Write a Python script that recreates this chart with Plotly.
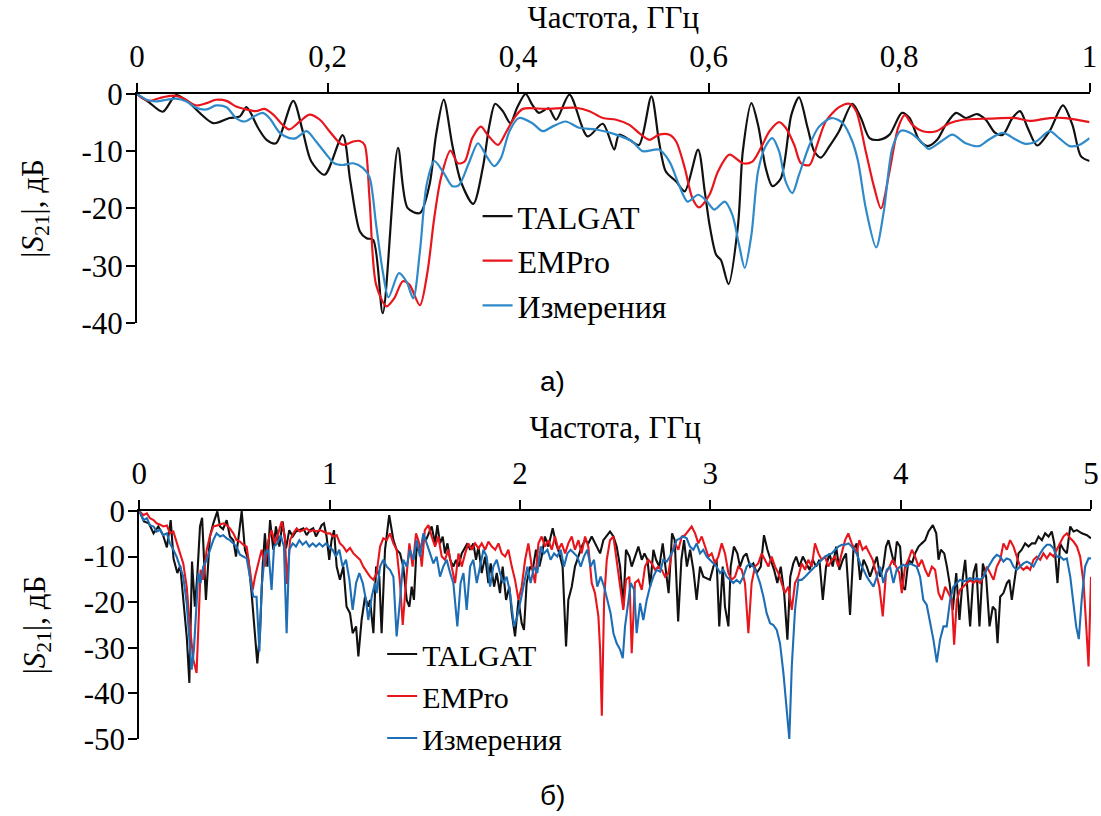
import plotly.graph_objects as go

# ---------------- data: top panel (0..1 GHz) ----------------
top_talgat = [(0, 0), (0.013, -1.5), (0.027, -3.1), (0.041, -0.2), (0.053, -1.3), (0.080, -5.1), (0.097, -4.2),
              (0.108, -3.9), (0.115, -2.3), (0.127, -5.9), (0.136, -8), (0.146, -8.6), (0.164, -1.2), (0.174, -6.5),
              (0.183, -11.8), (0.197, -14.1), (0.216, -7.2), (0.224, -15.3), (0.234, -24), (0.241, -25.2),
              (0.248, -25.5), (0.258, -38.3), (0.274, -9.4), (0.284, -19.9), (0.297, -20.8), (0.307, -15.9),
              (0.314, -7.1), (0.322, -1.0), (0.331, -8.9), (0.340, -15.3), (0.353, -19.2), (0.363, -12.9),
              (0.370, -5.4), (0.376, -1.7), (0.384, -3), (0.392, -5.1), (0.399, -2.4), (0.408, 0), (0.415, -1.9),
              (0.422, -3.3), (0.432, -2.5), (0.440, -4.5), (0.454, -0.1), (0.473, -7.4), (0.489, -5.2),
              (0.501, -9.7), (0.506, -7.1), (0.517, -8), (0.527, -8.9), (0.540, -0.4), (0.548, -8.3),
              (0.555, -13.5), (0.566, -15.3), (0.575, -17), (0.589, -9.7), (0.596, -17), (0.601, -22.8),
              (0.608, -28.1), (0.613, -29), (0.621, -33.2), (0.631, -22.8), (0.636, -10), (0.645, -1.6),
              (0.652, -5.4), (0.660, -12.9), (0.667, -16.1), (0.676, -14.7), (0.687, -3.6), (0.695, -0.6),
              (0.704, -5.9), (0.711, -10), (0.718, -11.1), (0.727, -9.1), (0.737, -6.5), (0.751, -1.7),
              (0.760, -4.2), (0.769, -7.7), (0.779, -8), (0.790, -7.1), (0.803, -3.3), (0.811, -4.2), (0.821, -8),
              (0.830, -9.1), (0.840, -8), (0.849, -5.4), (0.860, -3.3), (0.870, -4.2), (0.882, -3.5), (0.891, -4.5),
              (0.901, -6.8), (0.909, -7.1), (0.919, -4.2), (0.927, -3), (0.935, -5.9), (0.945, -9), (0.958, -6.5),
              (0.972, -2), (0.982, -5.4), (0.991, -10.9), (1.0, -11.7)]

top_empro = [(0, 0), (0.006, -0.8), (0.013, -1.2), (0.024, -0.7), (0.038, -0.3), (0.048, -0.7), (0.062, -2.0),
             (0.073, -1.6), (0.083, -1.0), (0.094, -1.2), (0.104, -2.2), (0.115, -2.7), (0.125, -3.0), (0.134, -2.6),
             (0.143, -3.6), (0.153, -5.4), (0.160, -6.2), (0.171, -4.8), (0.181, -3.6), (0.192, -4.5), (0.202, -6.5),
             (0.213, -8.6), (0.218, -8.9), (0.227, -8.3), (0.234, -8.2), (0.239, -8.9), (0.244, -18), (0.251, -33.3),
             (0.262, -37.1), (0.270, -35.7), (0.279, -32.7), (0.286, -33.3), (0.297, -36.9), (0.305, -31),
             (0.312, -21.7), (0.319, -14.7), (0.329, -9.9), (0.337, -12.1), (0.344, -11.8), (0.352, -7.7),
             (0.361, -5.7), (0.368, -7.1), (0.379, -8.9), (0.388, -6.5), (0.396, -4.2), (0.405, -2.6), (0.429, -2.6),
             (0.461, -2.4), (0.475, -3), (0.489, -4.2), (0.503, -4.5), (0.517, -5.4), (0.527, -6.8), (0.538, -8),
             (0.548, -7.1), (0.559, -7.1), (0.566, -8.3), (0.575, -12.9), (0.583, -18.2), (0.590, -19.8),
             (0.601, -17.6), (0.610, -13.5), (0.622, -10.6), (0.636, -12.1), (0.646, -11.8), (0.655, -9.4),
             (0.664, -6.5), (0.674, -4.9), (0.681, -5.9), (0.690, -8.9), (0.697, -12.1), (0.706, -12.4),
             (0.714, -8.9), (0.723, -4.8), (0.737, -2.3), (0.748, -1.7), (0.755, -3), (0.765, -10), (0.774, -16.4),
             (0.781, -20), (0.790, -13.5), (0.799, -5.9), (0.806, -3.7), (0.814, -5.4), (0.825, -6.5), (0.839, -6.5),
             (0.853, -5.1), (0.867, -4.5), (0.895, -4.3), (0.923, -4.2), (0.937, -4.7), (0.958, -4.2), (0.975, -4.2),
             (1.0, -4.9)]

top_meas = [(0, 0), (0.010, -1), (0.020, -1.3), (0.031, -1), (0.041, -0.8), (0.052, -1.3), (0.062, -2.4),
            (0.073, -2.7), (0.083, -2.0), (0.094, -2.3), (0.104, -4.2), (0.113, -4.8), (0.123, -3.9), (0.132, -3.3),
            (0.139, -4.2), (0.150, -6.8), (0.160, -7.7), (0.167, -7.7), (0.178, -6.5), (0.188, -8.3), (0.199, -10.6),
            (0.207, -12.1), (0.216, -12.4), (0.227, -12.1), (0.237, -12.9), (0.244, -14.5), (0.251, -22.8),
            (0.258, -31), (0.264, -35.5), (0.275, -31.3), (0.283, -32.8), (0.290, -35.7), (0.297, -27.5),
            (0.304, -15.9), (0.312, -11.7), (0.321, -13.5), (0.331, -16.1), (0.338, -15.9), (0.349, -11.8),
            (0.358, -8.6), (0.367, -10.9), (0.375, -12.6), (0.382, -11.2), (0.391, -6.5), (0.401, -4.2),
            (0.415, -5.1), (0.426, -6.5), (0.436, -5.7), (0.450, -4.8), (0.464, -5.9), (0.482, -6.2), (0.503, -7.1),
            (0.520, -8.3), (0.531, -10), (0.548, -9.7), (0.559, -11.8), (0.569, -15.9), (0.578, -18.8),
            (0.589, -17.6), (0.597, -18.5), (0.606, -20.2), (0.617, -18.8), (0.625, -21.1), (0.632, -26.3),
            (0.638, -30.4), (0.645, -24.6), (0.652, -13.5), (0.660, -9.1), (0.667, -7.7), (0.674, -10),
            (0.681, -15.3), (0.688, -17.3), (0.695, -14.1), (0.706, -8.9), (0.716, -5.7), (0.729, -4.2),
            (0.741, -5.1), (0.751, -8.3), (0.757, -11.8), (0.765, -19.9), (0.776, -26.8), (0.784, -20.5),
            (0.793, -9.4), (0.802, -6.4), (0.812, -6.8), (0.823, -8.3), (0.831, -9.6), (0.844, -8.3), (0.856, -7.1),
            (0.870, -8.6), (0.884, -9.1), (0.894, -8), (0.909, -6.8), (0.923, -8), (0.933, -8.7), (0.944, -8.3),
            (0.958, -6.5), (0.968, -7.7), (0.979, -9.1), (0.989, -8.9), (1.0, -7.7)]

# ---------------- data: bottom panel (0..5 GHz) ----------------
bot_talgat = [(0, 0), (0.025, -2.3), (0.05, -2.7), (0.075, -4.9), (0.1, -3.4), (0.125, -5.3), (0.145, -8),
              (0.165, -2), (0.18, -10.5), (0.2, -13.6), (0.215, -12), (0.235, -22), (0.25, -28), (0.263, -37.7),
              (0.277, -11.1), (0.292, -21), (0.305, -14), (0.319, -3.4), (0.33, -1.5), (0.35, -19.5), (0.371, -5.6),
              (0.389, -2.7), (0.41, -0.1), (0.424, -3.4), (0.44, -4), (0.459, -2), (0.476, -5.6), (0.494, -6.4),
              (0.508, -10), (0.522, -5.6), (0.538, 0), (0.555, -8.5), (0.573, -10.7), (0.59, -18), (0.603, -25.3),
              (0.62, -33.4), (0.634, -26.8), (0.648, -12.2), (0.66, -4.9), (0.673, -12.2), (0.687, -2),
              (0.704, -8.5), (0.718, -3.4), (0.736, -7.8), (0.753, -2.3), (0.771, -8.2), (0.788, -4.2),
              (0.806, -5.6), (0.823, -4.5), (0.844, -4.2), (0.862, -3.8), (0.879, -5.3), (0.897, -4.2),
              (0.914, -3.8), (0.928, -5.6), (0.946, -4.2), (0.958, -3.1), (0.97, -2.7), (0.984, -5.6),
              (0.998, -10.7), (1.01, -6.4), (1.023, -4.2), (1.037, -12.2), (1.054, -15.1), (1.072, -12.2),
              (1.089, -21), (1.107, -22.4), (1.121, -26.8), (1.139, -25.3), (1.151, -31.9), (1.168, -23.9),
              (1.186, -18.8), (1.203, -21), (1.212, -19.5), (1.23, -26.8), (1.244, -12.2), (1.261, -14.4),
              (1.273, -26.8), (1.291, -8.5), (1.313, -0.9), (1.335, -6.4), (1.352, -8.5), (1.37, -9.3),
              (1.387, -12.2), (1.405, -19.5), (1.419, -21), (1.431, -16.6), (1.443, -19.5), (1.457, -7.8),
              (1.475, -9.3), (1.492, -5.6), (1.506, -6.4), (1.519, -4.9), (1.536, -3.4), (1.554, -7.1),
              (1.566, -3.1), (1.58, -7.1), (1.594, -5.6), (1.606, -9.3), (1.619, -7.1), (1.633, -10.7),
              (1.65, -12.2), (1.664, -10.7), (1.677, -12.2), (1.694, -9.3), (1.712, -7.8), (1.724, -7.1),
              (1.738, -8.5), (1.755, -7.1), (1.769, -10.7), (1.782, -7.8), (1.799, -13.6), (1.817, -10),
              (1.834, -15.8), (1.846, -11.5), (1.864, -16.6), (1.878, -13.6), (1.895, -18), (1.909, -12.2),
              (1.927, -19.5), (1.944, -16.6), (1.957, -22.4), (1.974, -27.5), (1.992, -19.5), (2.009, -24.6),
              (2.021, -26.1), (2.035, -15.8), (2.053, -12.2), (2.067, -12.9), (2.084, -8.5), (2.102, -12.2),
              (2.114, -10), (2.131, -5.6), (2.149, -7.8), (2.172, -3.8), (2.189, -7.1), (2.207, -9.3),
              (2.224, -12.2), (2.242, -29.7), (2.254, -19.5), (2.272, -16.6), (2.289, -12.2), (2.307, -10),
              (2.324, -7.8), (2.342, -6.4), (2.359, -7.1), (2.377, -5.6), (2.394, -7.1), (2.421, -9.3),
              (2.438, -6.4), (2.459, -5.3), (2.473, -4.5), (2.491, -5.6), (2.508, -7.8), (2.526, -12.2),
              (2.543, -21), (2.557, -8.5), (2.575, -10), (2.587, -12.2), (2.604, -10), (2.622, -7.8), (2.64, -10.7),
              (2.654, -9.3), (2.67, -10.7), (2.684, -16.6), (2.701, -8.5), (2.715, -10.7), (2.732, -12.2),
              (2.75, -7.1), (2.764, -12.2), (2.781, -18), (2.799, -4.9), (2.813, -6.4), (2.831, -24.2),
              (2.848, -10.7), (2.862, -6.4), (2.877, -12.2), (2.894, -8.5), (2.911, -12.9), (2.928, -19.5),
              (2.946, -12.2), (2.963, -14.4), (2.981, -14.7), (2.998, -15.1), (3.016, -12.2), (3.033, -10.7),
              (3.047, -25.3), (3.065, -12.2), (3.077, -21), (3.095, -25.3), (3.107, -12.2), (3.124, -7.8),
              (3.142, -9.3), (3.156, -12.2), (3.174, -10), (3.19, -9.3), (3.209, -12.2), (3.226, -11.5),
              (3.244, -13.6), (3.265, -12.2), (3.282, -5.3), (3.3, -8.5), (3.317, -10.7), (3.335, -12.9),
              (3.352, -15.8), (3.37, -12.2), (3.388, -18), (3.405, -28.2), (3.42, -14.4), (3.436, -11.5),
              (3.451, -10), (3.468, -12.2), (3.486, -10), (3.503, -11.5), (3.521, -12.9), (3.538, -10.7),
              (3.556, -12.2), (3.573, -10.7), (3.591, -19.5), (3.608, -12.2), (3.626, -9.3), (3.643, -12.2),
              (3.661, -7.8), (3.678, -12.9), (3.696, -10.7), (3.713, -9.3), (3.734, -22.8), (3.752, -8.5),
              (3.769, -7.1), (3.787, -15.1), (3.805, -10.7), (3.822, -12.2), (3.839, -14.4), (3.857, -12.2),
              (3.875, -10), (3.892, -14.4), (3.909, -12.2), (3.923, -7.8), (3.936, -6.4), (3.953, -9.3),
              (3.967, -11.8), (3.98, -6.7), (3.997, -7.8), (4.011, -16.6), (4.023, -17.3), (4.041, -10.7),
              (4.059, -11.5), (4.076, -9.3), (4.094, -7.8), (4.111, -7.1), (4.129, -6.4), (4.146, -4.5),
              (4.169, -3.1), (4.187, -4.9), (4.199, -10.7), (4.211, -8.5), (4.229, -9.3), (4.243, -12.2),
              (4.257, -15.8), (4.274, -21.7), (4.292, -13.6), (4.309, -23.9), (4.327, -14.4), (4.339, -10.7),
              (4.348, -15.8), (4.365, -25.3), (4.383, -13.6), (4.397, -11.5), (4.414, -25.3), (4.432, -11.5),
              (4.449, -14.4), (4.467, -25.3), (4.484, -21), (4.498, -21.7), (4.509, -29), (4.523, -18.8),
              (4.54, -18), (4.558, -15.8), (4.571, -15.1), (4.584, -19.5), (4.601, -14.4), (4.619, -9.3),
              (4.636, -8.5), (4.654, -7.1), (4.672, -7.8), (4.689, -7.1), (4.707, -7.1), (4.724, -5.6),
              (4.742, -6.4), (4.759, -4.9), (4.777, -5.6), (4.794, -4.5), (4.807, -7.1), (4.824, -15.8),
              (4.838, -7.1), (4.856, -8.5), (4.873, -9.3), (4.891, -3.4), (4.908, -4.5), (4.926, -4.2),
              (4.952, -4.9), (4.979, -5.3), (5.0, -6)]

bot_empro = [(0, 0), (0.021, -0.9), (0.04, -0.5), (0.056, -1.6), (0.075, -2), (0.091, -2.7), (0.11, -3),
             (0.126, -3.4), (0.145, -3.2), (0.161, -4.9), (0.179, -4.5), (0.196, -7.1), (0.214, -9.3),
             (0.231, -11.5), (0.249, -16.6), (0.266, -25.3), (0.284, -32.6), (0.301, -35.5), (0.31, -26.8),
             (0.322, -12.9), (0.336, -15.1), (0.354, -8.5), (0.371, -5.6), (0.389, -3.4), (0.415, -3.1),
             (0.441, -2.7), (0.459, -3.1), (0.476, -3.8), (0.494, -4.9), (0.511, -6.4), (0.529, -6.7),
             (0.546, -7.4), (0.564, -7.8), (0.581, -12.9), (0.596, -17.3), (0.608, -14.4), (0.625, -11.5),
             (0.643, -8.5), (0.66, -12.2), (0.678, -6.4), (0.695, -4.2), (0.713, -7.1), (0.73, -4.9), (0.748, -2.3),
             (0.765, -5.6), (0.776, -16), (0.792, -6.4), (0.809, -4.9), (0.827, -3.8), (0.844, -4.5), (0.862, -4.2),
             (0.879, -3.8), (0.897, -4.5), (0.914, -4.2), (0.932, -4.5), (0.949, -4.2), (0.967, -4.5),
             (0.984, -4.9), (1.002, -4.9), (1.019, -5.6), (1.037, -5.3), (1.054, -7.1), (1.072, -7.8),
             (1.089, -8.9), (1.107, -8.1), (1.125, -9.3), (1.142, -10), (1.16, -10.7), (1.177, -12.2),
             (1.194, -13.3), (1.212, -14.4), (1.23, -15.1), (1.247, -13.6), (1.265, -7.8), (1.282, -6),
             (1.3, -6.4), (1.317, -4.9), (1.335, -7.1), (1.352, -8.5), (1.37, -15.8), (1.384, -25), (1.401, -15.8),
             (1.419, -7.1), (1.436, -12.2), (1.454, -4.9), (1.471, -7.1), (1.484, -12.2), (1.5, -4.2),
             (1.519, -3.1), (1.536, -5.6), (1.554, -7.8), (1.571, -5.6), (1.589, -10), (1.606, -10.7),
             (1.624, -8.5), (1.641, -12.2), (1.659, -15.8), (1.677, -9.3), (1.694, -12.2), (1.712, -9.3),
             (1.729, -7.1), (1.747, -8.5), (1.764, -7.1), (1.782, -8.2), (1.799, -7.1), (1.817, -8.5),
             (1.834, -6.7), (1.852, -7.8), (1.87, -8.5), (1.887, -7.1), (1.904, -9.3), (1.922, -10), (1.939, -8.5),
             (1.957, -12.2), (1.974, -15.1), (1.992, -19.5), (2.009, -16.6), (2.027, -10.7), (2.044, -7.1),
             (2.062, -12.2), (2.079, -15.8), (2.097, -7.1), (2.114, -5.6), (2.132, -7.8), (2.149, -6.4),
             (2.167, -8.5), (2.184, -5.6), (2.202, -8.5), (2.219, -7.1), (2.237, -9.3), (2.254, -7.1),
             (2.272, -5.6), (2.289, -8.5), (2.307, -6.4), (2.324, -9.3), (2.342, -5.6), (2.359, -7.8),
             (2.377, -15.8), (2.394, -18), (2.412, -23.1), (2.421, -30.4), (2.43, -44.9), (2.442, -19.5),
             (2.456, -10.7), (2.473, -6.4), (2.491, -5.6), (2.508, -10.7), (2.526, -15.8), (2.543, -21.7),
             (2.557, -15.1), (2.575, -14.4), (2.587, -31.2), (2.604, -15.8), (2.622, -15.1), (2.64, -17.3),
             (2.657, -12.2), (2.675, -10.7), (2.692, -11.5), (2.71, -12.9), (2.727, -12.2), (2.745, -12.9),
             (2.762, -14.4), (2.78, -13.6), (2.797, -9.3), (2.815, -7.1), (2.832, -8.5), (2.85, -5.6),
             (2.867, -5.3), (2.885, -4.2), (2.902, -3.4), (2.92, -4.9), (2.937, -7.1), (2.955, -5.6),
             (2.972, -7.8), (2.99, -10), (3.007, -9.3), (3.025, -11.5), (3.042, -10), (3.06, -7.1), (3.077, -9.3),
             (3.095, -13.6), (3.112, -15.1), (3.13, -14.4), (3.147, -12.2), (3.165, -12.9), (3.182, -15.8),
             (3.2, -26.8), (3.217, -15.8), (3.235, -12.2), (3.252, -11.5), (3.27, -9.3), (3.287, -10.7),
             (3.305, -12.2), (3.322, -10), (3.34, -12.2), (3.357, -13.6), (3.375, -15.8), (3.392, -18),
             (3.41, -16.6), (3.428, -21.7), (3.445, -15.8), (3.462, -14.4), (3.48, -11.5), (3.498, -12.9),
             (3.515, -10.7), (3.533, -12.2), (3.55, -7.1), (3.568, -9.3), (3.585, -10.7), (3.603, -10),
             (3.62, -12.2), (3.638, -10.7), (3.655, -10), (3.673, -12.2), (3.69, -9.3), (3.708, -6.4),
             (3.725, -4.9), (3.743, -7.1), (3.76, -8.5), (3.769, -9.3), (3.783, -6.4), (3.8, -8.5), (3.818, -7.8),
             (3.836, -9.3), (3.853, -10.7), (3.871, -13.6), (3.888, -16.6), (3.906, -23.1), (3.923, -13.6),
             (3.941, -12.2), (3.958, -10.7), (3.976, -12.2), (3.993, -13.6), (4.006, -18), (4.023, -12.2),
             (4.041, -10.7), (4.059, -8.5), (4.076, -10), (4.094, -12.2), (4.111, -10.7), (4.129, -12.9),
             (4.146, -14.4), (4.164, -12.2), (4.181, -12.9), (4.199, -18), (4.216, -19.5), (4.234, -16.6),
             (4.251, -18), (4.269, -19.5), (4.281, -29.3), (4.295, -19.5), (4.312, -17.3), (4.33, -16.6),
             (4.348, -15.8), (4.365, -15.1), (4.383, -15.8), (4.4, -15.1), (4.418, -15.8), (4.435, -14.4),
             (4.453, -12.2), (4.47, -13.6), (4.488, -15.1), (4.505, -12.2), (4.523, -10.7), (4.54, -7.1),
             (4.558, -8.5), (4.575, -6.4), (4.593, -7.8), (4.61, -10), (4.628, -12.2), (4.645, -12.9),
             (4.663, -12.2), (4.68, -12.9), (4.698, -10.7), (4.715, -10), (4.733, -10.7), (4.75, -9.3),
             (4.768, -10.4), (4.785, -9.3), (4.803, -10), (4.82, -8.5), (4.838, -7.1), (4.855, -5.6), (4.873, -4.9),
             (4.891, -6), (4.908, -6.7), (4.926, -7.8), (4.943, -10), (4.961, -15.8), (4.975, -25.3),
             (4.987, -34.1), (5.0, -14.4)]

bot_meas = [(0, 0), (0.021, -2), (0.04, -1.6), (0.056, -3.1), (0.075, -3.4), (0.091, -4.5), (0.11, -4.1),
            (0.126, -5.3), (0.145, -4.9), (0.161, -7.1), (0.179, -8.5), (0.196, -10), (0.214, -12.2),
            (0.231, -14.4), (0.249, -20.2), (0.263, -28.2), (0.275, -34.8), (0.287, -30.4), (0.298, -20.9),
            (0.31, -13.6), (0.322, -15.8), (0.336, -12.2), (0.354, -10.7), (0.371, -8.5), (0.389, -6.4),
            (0.406, -4.9), (0.424, -5.6), (0.441, -5.3), (0.459, -6), (0.476, -6.4), (0.494, -7.1), (0.511, -7.8),
            (0.529, -9.6), (0.546, -10), (0.564, -10.4), (0.581, -14.4), (0.599, -18.8), (0.616, -18.8),
            (0.631, -30.8), (0.643, -16.6), (0.66, -9.3), (0.678, -8.5), (0.695, -17.3), (0.708, -7.8),
            (0.725, -7.1), (0.743, -5.3), (0.76, -7.8), (0.774, -26.8), (0.788, -8.5), (0.806, -7.1),
            (0.823, -7.8), (0.841, -6.4), (0.858, -7.4), (0.876, -6.7), (0.893, -7.8), (0.911, -7.1),
            (0.928, -7.8), (0.946, -7.1), (0.963, -7.8), (0.981, -7.1), (0.998, -7.8), (1.016, -8.5),
            (1.033, -10), (1.051, -8.5), (1.068, -12.2), (1.086, -10.7), (1.104, -15.1), (1.121, -21.7),
            (1.139, -15.8), (1.156, -13.6), (1.174, -15.8), (1.191, -19.5), (1.203, -23.9), (1.221, -18.8),
            (1.238, -15.8), (1.247, -18), (1.265, -12.2), (1.282, -10.7), (1.3, -12.2), (1.317, -12.9),
            (1.335, -14.4), (1.352, -27.5), (1.37, -19.5), (1.387, -10.7), (1.405, -12.2), (1.422, -8.5),
            (1.44, -10.7), (1.457, -6.4), (1.475, -10), (1.492, -4.9), (1.51, -7.1), (1.527, -9.3),
            (1.545, -11.5), (1.562, -10), (1.58, -14.4), (1.597, -12.2), (1.615, -10.7), (1.633, -13.6),
            (1.65, -15.8), (1.671, -25.3), (1.688, -15.8), (1.703, -13.6), (1.72, -21.7), (1.738, -12.2),
            (1.755, -10.7), (1.773, -15.8), (1.79, -12.2), (1.808, -8.5), (1.825, -10), (1.843, -16.6),
            (1.86, -12.2), (1.878, -10.7), (1.895, -13.6), (1.913, -15.8), (1.93, -14.4), (1.948, -18),
            (1.969, -25.3), (1.986, -23.1), (2.004, -19.5), (2.021, -15.8), (2.039, -12.2), (2.056, -15.8),
            (2.074, -12.2), (2.091, -13.6), (2.109, -7.8), (2.126, -9.3), (2.144, -8.5), (2.161, -10.7),
            (2.179, -9.3), (2.196, -10), (2.214, -8.5), (2.231, -12.2), (2.249, -9.3), (2.266, -8.5),
            (2.284, -9.3), (2.301, -10), (2.319, -12.2), (2.336, -10), (2.354, -8.5), (2.371, -12.2),
            (2.389, -10.7), (2.406, -16.6), (2.424, -14.4), (2.442, -16.6), (2.459, -19.5), (2.476, -22.4),
            (2.491, -26.8), (2.508, -29), (2.526, -30.4), (2.54, -32.3), (2.552, -25.3), (2.57, -19.5),
            (2.582, -15.8), (2.6, -17.3), (2.613, -26.8), (2.631, -20.2), (2.648, -23.9), (2.666, -19.5),
            (2.683, -16.6), (2.701, -14.4), (2.718, -12.9), (2.736, -13.3), (2.753, -10.7), (2.771, -11.1),
            (2.788, -10), (2.806, -8.5), (2.823, -6.4), (2.841, -6), (2.858, -5.6), (2.876, -6), (2.893, -7.8),
            (2.911, -8.5), (2.928, -7.1), (2.946, -9.3), (2.963, -8.5), (2.981, -10), (2.998, -10.7),
            (3.016, -11.5), (3.033, -12.2), (3.051, -13.6), (3.068, -12.9), (3.086, -14.4), (3.103, -15.1),
            (3.121, -15.8), (3.138, -15.1), (3.156, -15.8), (3.173, -14.4), (3.191, -12.2), (3.208, -11.5),
            (3.226, -12.2), (3.243, -13.6), (3.261, -15.8), (3.279, -18.8), (3.296, -22.4), (3.314, -24.6),
            (3.331, -25), (3.349, -26.1), (3.366, -29), (3.384, -35.5), (3.401, -42.8), (3.415, -50),
            (3.428, -34.1), (3.445, -21.7), (3.463, -15.1), (3.48, -15.1), (3.498, -14.4), (3.515, -13.6),
            (3.533, -12.9), (3.55, -12.2), (3.568, -11.5), (3.585, -10.7), (3.603, -10), (3.621, -9.6),
            (3.638, -9.3), (3.656, -8.5), (3.673, -7.8), (3.691, -7.4), (3.708, -7.4), (3.726, -7.1),
            (3.743, -7.8), (3.769, -9.3), (3.787, -11.5), (3.805, -12.9), (3.822, -14.4), (3.839, -15.5),
            (3.857, -16.6), (3.875, -14.4), (3.892, -12.2), (3.909, -15.8), (3.927, -12.9), (3.944, -12.2),
            (3.962, -15.8), (3.979, -12.9), (3.997, -12.2), (4.014, -11.8), (4.032, -12.2), (4.049, -11.5),
            (4.067, -11.8), (4.084, -12.2), (4.102, -14.4), (4.119, -19.5), (4.137, -20.6), (4.155, -24.6),
            (4.172, -28.2), (4.19, -33.2), (4.207, -28.2), (4.225, -25.3), (4.242, -25.3), (4.26, -19.5),
            (4.277, -16.6), (4.295, -15.8), (4.312, -15.1), (4.33, -15.5), (4.347, -15.1), (4.365, -14.7),
            (4.382, -15.1), (4.4, -14.7), (4.417, -15.1), (4.435, -14.4), (4.452, -12.9), (4.47, -11.5),
            (4.487, -10.4), (4.505, -9.6), (4.522, -10), (4.54, -11.1), (4.557, -10.4), (4.575, -10.7),
            (4.593, -12.2), (4.61, -12.9), (4.628, -12.2), (4.645, -11.5), (4.663, -11.1), (4.68, -11.5),
            (4.698, -12.2), (4.715, -10.7), (4.733, -9.3), (4.75, -8.2), (4.768, -7.4), (4.785, -7.4),
            (4.803, -8.2), (4.82, -10), (4.838, -10), (4.856, -10.7), (4.873, -10.4), (4.891, -14.4),
            (4.908, -20.2), (4.922, -25.3), (4.936, -28.1), (4.951, -19.5), (4.969, -12.2), (4.987, -10.4),
            (5.0, -10.4)]

series_names = ["TALGAT", "EMPro", "Измерения"]
top_ticks = [0, 0.2, 0.4, 0.6, 0.8, 1.0]
top_ticktext = ["0", "0,2", "0,4", "0,6", "0,8", "1"]
top_yticks = [0, -10, -20, -30, -40]
bot_ticks = [0, 1, 2, 3, 4, 5]
bot_ticktext = ["0", "1", "2", "3", "4", "5"]
bot_yticks = [0, -10, -20, -30, -40, -50]
x_title = "Частота, ГГц"
y_title = "|<i>S</i><sub>21</sub>|, дБ"
panel_labels = ["а)", "б)"]

# ---------------- styles ----------------
SERIF = "Liberation Serif"
SANS = "Liberation Sans"
BLACK = "#111111"
RED = "#E8161C"
BLUE_TOP = "#2F8AC9"
BLUE_BOT = "#1D6EB5"


def xy(pairs):
    return [p[0] for p in pairs], [p[1] for p in pairs]


fig = go.Figure()

for pairs, name, color in zip([top_talgat, top_empro, top_meas], series_names, [BLACK, RED, BLUE_TOP]):
    x, y = xy(pairs)
    fig.add_trace(go.Scatter(x=x, y=y, name=name, mode="lines", xaxis="x", yaxis="y",
                             line=dict(color=color, width=2.2, shape="spline", smoothing=0.8),
                             legend="legend"))

for pairs, name, color in zip([bot_talgat, bot_empro, bot_meas], series_names, [BLACK, RED, BLUE_BOT]):
    x, y = xy(pairs)
    fig.add_trace(go.Scatter(x=x, y=y, name=name, mode="lines", xaxis="x2", yaxis="y2",
                             line=dict(color=color, width=2.1), legend="legend2"))

axis_common = dict(showline=True, linecolor="black", linewidth=2, ticks="outside", ticklen=9, tickwidth=2,
                   tickcolor="black", showgrid=False, zeroline=False, automargin=False,
                   tickfont=dict(family=SERIF, size=31, color="black"))

fig.update_layout(
    width=1101, height=816,
    margin=dict(l=137, r=10, t=94, b=77),
    paper_bgcolor="white", plot_bgcolor="white",
    template="none",
    font=dict(family=SERIF, color="black"),
    xaxis=dict(domain=[0.0, 0.9985], range=[0, 1], side="top", anchor="y",
               tickvals=top_ticks, ticktext=top_ticktext, ticklabelstandoff=4,
               title=dict(text=x_title, font=dict(family=SERIF, size=31, color="black"), standoff=4),
               **axis_common),
    yaxis=dict(domain=[0.645, 1.0], range=[-40, 0], anchor="x",
               tickvals=top_yticks, ticktext=[str(v) for v in top_yticks], ticklabelstandoff=-3,
               title=dict(text=y_title, font=dict(family=SERIF, size=31, color="black"), standoff=29),
               **axis_common),
    xaxis2=dict(domain=[0.0024, 1.0], range=[0, 5], side="top", anchor="y2",
                tickvals=bot_ticks, ticktext=bot_ticktext, ticklabelstandoff=4,
                title=dict(text=x_title, font=dict(family=SERIF, size=31, color="black"), standoff=8),
                **axis_common),
    yaxis2=dict(domain=[0.0, 0.3535], range=[-50, 0], anchor="x2",
                tickvals=bot_yticks, ticktext=[str(v) for v in bot_yticks], ticklabelstandoff=-3,
                title=dict(text=y_title, font=dict(family=SERIF, size=31, color="black"), standoff=29),
                **axis_common),
    legend=dict(x=0.357, y=0.853, xanchor="left", yanchor="top", bgcolor="rgba(0,0,0,0)",
                font=dict(family=SERIF, size=32, color="black"), tracegroupgap=0),
    legend2=dict(x=0.257, y=0.172, xanchor="left", yanchor="top", bgcolor="rgba(0,0,0,0)",
                 font=dict(family=SERIF, size=30, color="black"), tracegroupgap=0),
    annotations=[
        dict(text=panel_labels[0], x=0.436, y=0.555, xref="paper", yref="paper", showarrow=False,
             xanchor="center", yanchor="middle", font=dict(family=SANS, size=28, color="black")),
        dict(text=panel_labels[1], x=0.436, y=-0.087, xref="paper", yref="paper", showarrow=False,
             xanchor="center", yanchor="middle", font=dict(family=SANS, size=28, color="black")),
    ],
)

fig.write_html("out.html", config={"displayModeBar": False},
               post_script="document.body.style.margin='0px';")
